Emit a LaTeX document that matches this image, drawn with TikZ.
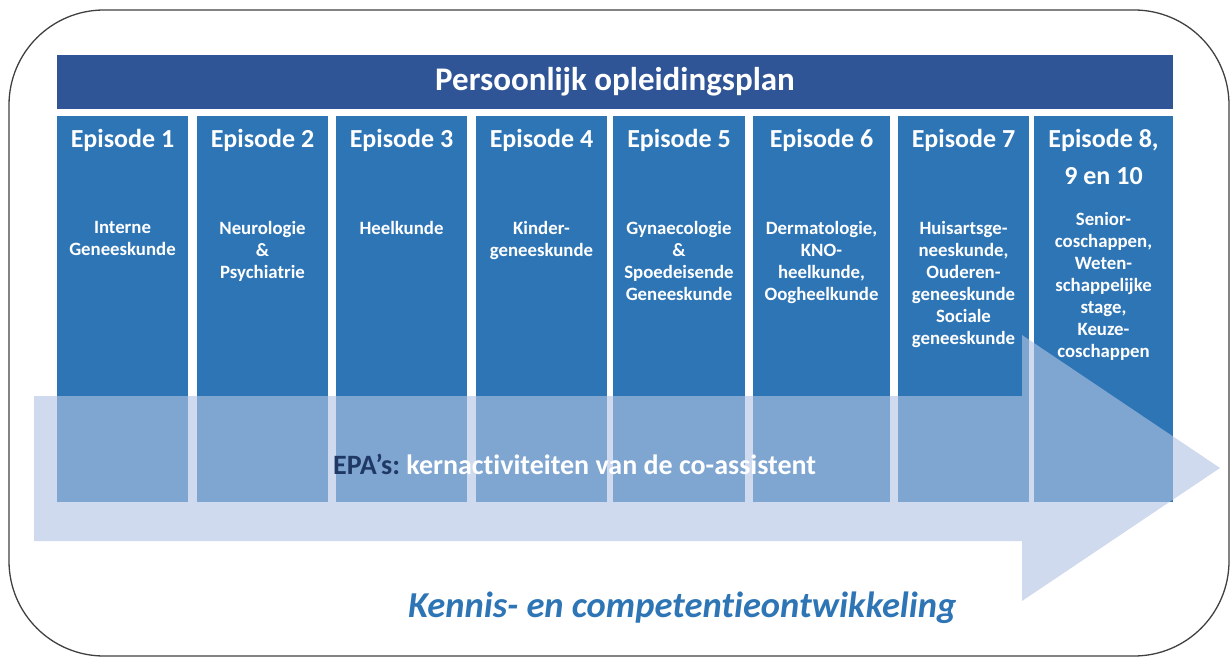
\documentclass[tikz,border=0pt]{standalone}
\usepackage{fontspec}
\setmainfont{Carlito}[Ligatures=NoCommon]
\usepackage{tikz}
\usetikzlibrary{positioning}

\definecolor{planblue}{RGB}{47,85,151}
\definecolor{epblue}{RGB}{46,117,182}
\definecolor{arrowblue}{RGB}{177,195,227}
\definecolor{epanavy}{RGB}{31,56,100}
\definecolor{framegray}{RGB}{64,64,64}
\frenchspacing

\begin{document}
\begin{tikzpicture}[x=1pt,y=-1pt,
    frame/.style={draw=framegray,line width=1.3pt,rounded corners=95pt},
    planbar/.style={fill=planblue,text=white,inner sep=0pt,
      minimum width=1116pt,minimum height=54pt,
      font=\fontsize{33}{38}\bfseries\selectfont},
    episode/.style={fill=epblue,minimum height=386pt,inner sep=0pt},
    ephead/.style={text=white,align=center,inner sep=0pt,
      font=\fontsize{26}{37}\bfseries\selectfont},
    epbody/.style={text=white,align=center,inner sep=0pt,
      font=\fontsize{18.8}{22}\bfseries\selectfont},
    growth/.style={fill=arrowblue,fill opacity=.62}]
  \useasboundingbox (0,0) rectangle (1231,658);

  \node[planbar] (plan) at (615,82) {Persoonlijk opleidingsplan};

  % columns, one per episode
  \foreach \n/\cx/\w in {1/122.5/131,2/262.5/131,3/401.5/131,4/541.5/131,
      5/679/132,6/821.5/137,7/963.5/131,8/1103.5/139}
    \node[episode,minimum width=\w pt] (ep\n) at (\cx,309) {};

  \foreach \n in {1,...,7}
    \node[ephead,below=13pt of ep\n.north] (head\n) {Episode \n};
  \node[ephead,below=13pt of ep8.north] (head8) {Episode 8,\\9 en 10};

  \node[epbody,below=105pt of ep1.north] (vak1) {Interne\\Geneeskunde};
  \node[epbody,below=105pt of ep2.north] (vak2) {Neurologie\\\&\\Psychiatrie};
  \node[epbody,below=105pt of ep3.north] (vak3) {Heelkunde};
  \node[epbody,below=105pt of ep4.north] (vak4) {Kinder-\\geneeskunde};
  \node[epbody,below=105pt of ep5.north] (vak5) {Gynaecologie\\\&\\Spoedeisende\\Geneeskunde};
  \node[epbody,below=105pt of ep6.north] (vak6) {Dermatologie,\\KNO-\\heelkunde,\\Oogheelkunde};
  \node[epbody,below=105pt of ep7.north] (vak7) {Huisartsge-\\neeskunde,\\Ouderen-\\geneeskunde\\Sociale\\geneeskunde};
  \node[epbody,below=96pt of ep8.north] (vak8) {Senior-\\coschappen,\\Weten-\\schappelijke\\stage,\\Keuze-\\coschappen};

  % big arrow over the columns
  \fill[growth] (34,396) -- (1022,396) -- (1022,335) -- (1220,468)
    -- (1022,601) -- (1022,541) -- (34,541) -- cycle;

  \node[anchor=base west,inner sep=0pt,text=white,
    font=\fontsize{28}{32}\bfseries\selectfont] (epa) at (333,474)
    {\textcolor{epanavy}{EPA’s:} kernactiviteiten van de co-assistent};
  \node[anchor=base west,inner sep=0pt,text=epblue,
    font=\fontsize{36.5}{40}\bfseries\itshape\selectfont] (groei) at (408,617)
    {Kennis- en competentieontwikkeling};

  \draw[frame] (9,10) rectangle (1229,656);
\end{tikzpicture}
\end{document}
